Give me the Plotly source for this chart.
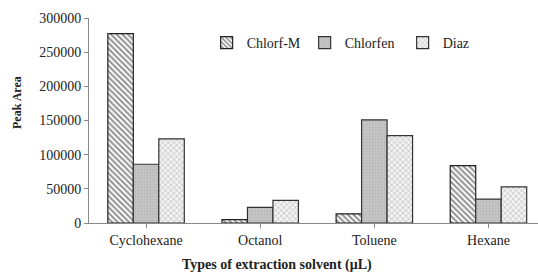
import plotly.graph_objects as go

categories = ["Cyclohexane", "Octanol", "Toluene", "Hexane"]
chlorf_m = [277000, 5000, 13500, 84000]
chlorfen = [86000, 23000, 151000, 35000]
diaz = [123000, 33000, 128000, 53000]
y_ticks = [0, 50000, 100000, 150000, 200000, 250000, 300000]

FONT = "Liberation Serif"
TXT = "#222222"

fig = go.Figure()
fig.add_trace(go.Bar(
    x=categories, y=chlorf_m, name="Chlorf-M",
    marker=dict(color="white", line=dict(color="#222222", width=1.2),
                pattern=dict(shape="\\", fgcolor="#222222", bgcolor="white", size=4, solidity=0.5)),
))
fig.add_trace(go.Bar(
    x=categories, y=chlorfen, name="Chlorfen",
    marker=dict(color="#bdbdbd", line=dict(color="#333333", width=1.2),
                pattern=dict(shape=".", fgcolor="#a8a8a8", bgcolor="#c6c6c6", size=3, solidity=0.4)),
))
fig.add_trace(go.Bar(
    x=categories, y=diaz, name="Diaz",
    marker=dict(color="white", line=dict(color="#333333", width=1.2),
                pattern=dict(shape="x", fgcolor="#999999", bgcolor="#f2f2f2", size=4, solidity=0.35)),
))

fig.update_layout(
    width=538, height=272,
    margin=dict(l=89, r=0, t=18, b=49),
    paper_bgcolor="white", plot_bgcolor="white",
    barmode="group", bargap=0.33, bargroupgap=0,
    font=dict(family=FONT, size=14, color=TXT),
    showlegend=True,
    legend=dict(orientation="h", x=0.262, y=0.878, xanchor="left", yanchor="middle",
                bgcolor="rgba(0,0,0,0)", font=dict(family=FONT, size=14, color=TXT),
                entrywidth=53, entrywidthmode="pixels", itemwidth=30,
                tracegroupgap=0),
    xaxis=dict(range=[-0.5, 3.434], showline=True, linecolor="#888888", linewidth=1,
               ticks="outside", ticklen=4, tickcolor="#888888", showgrid=False,
               tickfont=dict(family=FONT, size=14, color=TXT)),
    yaxis=dict(range=[0, 300000], tickvals=y_ticks, ticktext=[str(v) for v in y_ticks],
               showline=True, linecolor="#888888", linewidth=1,
               ticks="outside", ticklen=4, tickcolor="#888888", showgrid=False,
               zeroline=False, tickfont=dict(family=FONT, size=14, color=TXT)),
    annotations=[
        dict(text="<b>Peak Area</b>", xref="paper", yref="paper",
             x=(17 - 89) / 449, y=(223 - 103) / 205, textangle=-90,
             showarrow=False, font=dict(family=FONT, size=12, color=TXT),
             xanchor="center", yanchor="middle"),
        dict(text="<b>Types of extraction solvent (μL)</b>", xref="paper", yref="paper",
             x=(277 - 89) / 449, y=(223 - 265) / 205, showarrow=False,
             font=dict(family=FONT, size=14, color=TXT),
             xanchor="center", yanchor="middle"),
    ],
)

fig.write_html("out.html", config={"displayModeBar": False},
               post_script="document.body.style.margin='0';")
